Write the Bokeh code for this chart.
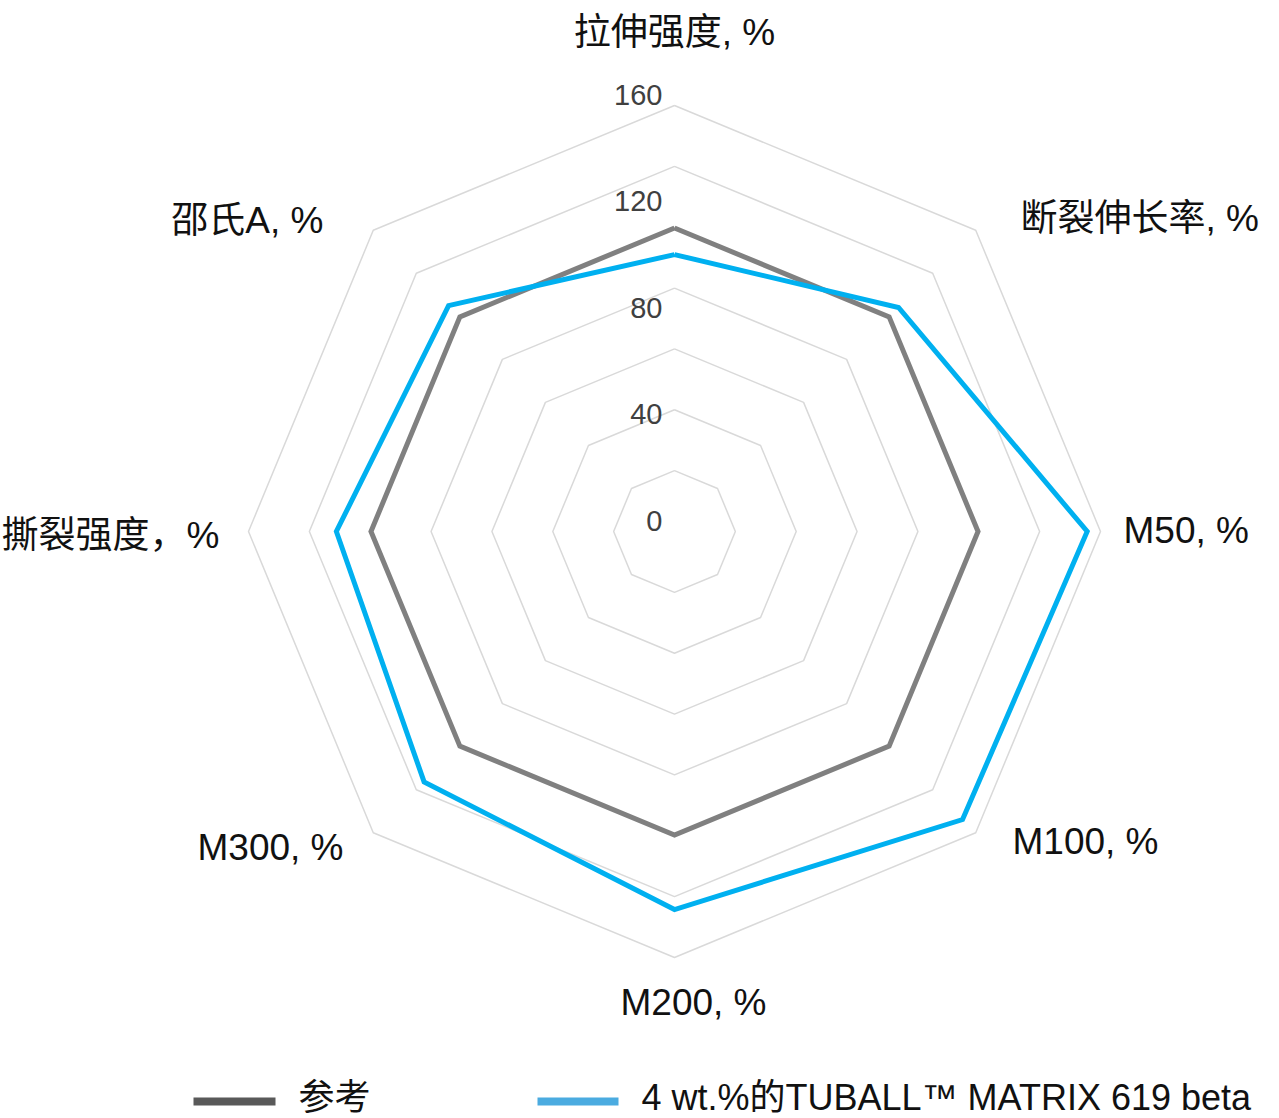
import math
from bokeh.plotting import figure
from bokeh.models import Range1d
from bokeh.core.properties import value
from bokeh.embed import file_html
from bokeh.resources import INLINE

# ---- data ----
categories = ["拉伸强度, %", "断裂伸长率, %", "M50, %", "M100, %",
              "M200, %", "M300, %", "撕裂强度，%", "邵氏A, %"]
reference = [114, 114, 114, 114, 114, 114, 114, 114]
tuball = [104, 119, 155, 153, 142, 133, 127, 120]
series_names = ["参考", "4 wt.%的TUBALL™ MATRIX 619 beta"]
tick_values = [0, 40, 80, 120, 160]
axis_max = 160
n_rings = 7

# ---- layout ----
W, H = 1279, 1118
CX, CY = 674, 531          # centre in screen pixels
R_PX = 426                 # radius of outer ring in pixels
S = R_PX / axis_max        # pixels per unit

FONT = value("Liberation Sans, Noto Sans CJK SC")

def ux(px):   # screen x -> data
    return (px - CX) / S

def uy(py):   # screen y -> data
    return (CY - py) / S

p = figure(width=W, height=H, output_backend="svg", toolbar_location=None,
           x_range=Range1d(ux(0), ux(W)), y_range=Range1d(uy(H), uy(0)),
           x_axis_location=None, y_axis_location=None, min_border=0,
           outline_line_color=None, tools="")
p.grid.visible = False
p.background_fill_color = "white"
p.border_fill_color = "white"

n = len(categories)
angles = [2 * math.pi * i / n for i in range(n)]

def polar(vals):
    xs = [v * math.sin(a) for v, a in zip(vals, angles)]
    ys = [v * math.cos(a) for v, a in zip(vals, angles)]
    return xs + xs[:1], ys + ys[:1]

# grid rings
ring_xs, ring_ys = [], []
for k in range(1, n_rings + 1):
    rx, ry = polar([axis_max * k / n_rings] * n)
    ring_xs.append(rx)
    ring_ys.append(ry)
p.multi_line(ring_xs, ring_ys, line_color="#d9d9d9", line_width=1.5)

# series
gx, gy = polar(reference)
p.line(gx, gy, line_color="#808080", line_width=5, line_join="miter")
bx, by = polar(tuball)
p.line(bx, by, line_color="#00b0f0", line_width=5, line_join="miter")

# tick labels
p.text(x=[0] * len(tick_values), y=tick_values, text=[str(t) for t in tick_values],
       x_offset=-12, y_offset=-11, text_align="right", text_baseline="middle",
       text_font=FONT, text_font_size="29px", text_color="#404040")

# category labels: (dx, dy) offsets in px from centre, align
label_pos = [(0, 499, "center"), (346, 313, "left"), (449, 1, "left"),
             (338, -310, "left"), (19, -471, "center"), (-331, -316, "right"),
             (-455, -4, "right"), (-351, 311, "right")]
for cat, (dx, dy, al) in zip(categories, label_pos):
    p.text(x=[dx / S], y=[dy / S], text=[cat], text_align=al,
           text_baseline="middle", text_font=FONT, text_font_size="37px",
           text_color="#111111")

# legend
ly = uy(1101)
ty = uy(1097)
p.segment(x0=[ux(193)], y0=[ly], x1=[ux(275)], y1=[ly], line_color="#595959", line_width=8)
p.segment(x0=[ux(537)], y0=[ly], x1=[ux(618)], y1=[ly], line_color="#4babe0", line_width=8)
p.text(x=[ux(298), ux(641)], y=[ty, ty], text=series_names, text_align="left",
       text_baseline="middle", text_font=FONT, text_font_size="36px",
       text_line_height=1.0, text_color="#111111")

open("out.html", "w").write(file_html(p, INLINE))
